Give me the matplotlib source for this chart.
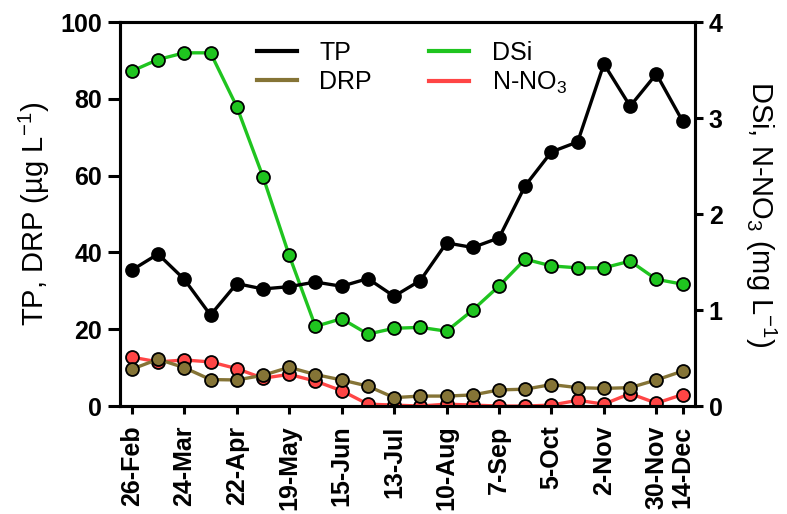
import numpy as np
import matplotlib
matplotlib.use("Agg")
import matplotlib.pyplot as plt

plt.rcParams['font.family'] = ['Liberation Sans', 'DejaVu Sans']
plt.rcParams['mathtext.fontset'] = 'custom'
plt.rcParams['mathtext.rm'] = 'Liberation Sans'
plt.rcParams['mathtext.it'] = 'Liberation Sans:italic'
plt.rcParams['mathtext.bf'] = 'Liberation Sans:bold'

# sampling dates (fortnightly), every second one labelled plus the last
dates = ['26-Feb', '10-Mar', '24-Mar', '7-Apr', '22-Apr', '5-May', '19-May',
         '1-Jun', '15-Jun', '29-Jun', '13-Jul', '27-Jul', '10-Aug', '24-Aug',
         '7-Sep', '21-Sep', '5-Oct', '19-Oct', '2-Nov', '16-Nov', '30-Nov',
         '14-Dec']
tick_idx = [0, 2, 4, 6, 8, 10, 12, 14, 16, 18, 20, 21]

# ug/L
tp = [35.4, 39.6, 33.0, 23.7, 31.9, 30.5, 31.1, 32.3, 31.2, 33.2, 28.6,
      32.7, 42.5, 41.3, 43.8, 57.4, 66.2, 68.8, 89.1, 78.1, 86.5, 74.2]
drp = [9.6, 12.2, 10.0, 6.9, 6.8, 8.0, 10.1, 8.2, 6.8, 5.2, 2.2,
       2.6, 2.6, 2.9, 4.2, 4.4, 5.6, 4.8, 4.6, 4.8, 6.8, 9.1]
# mg/L
dsi = [3.49, 3.61, 3.68, 3.68, 3.12, 2.39, 1.57, 0.83, 0.91, 0.75, 0.81,
       0.82, 0.78, 1.00, 1.25, 1.53, 1.46, 1.44, 1.44, 1.51, 1.32, 1.27]
no3 = [0.51, 0.46, 0.48, 0.46, 0.39, 0.29, 0.33, 0.26, 0.16, 0.02, 0.01,
       0.00, 0.02, 0.01, 0.00, 0.00, 0.01, 0.06, 0.02, 0.13, 0.03, 0.12]

c_tp = '#000000'
c_drp = '#857436'
c_dsi = '#1fc41f'
c_no3 = '#ff4545'

x = np.arange(len(dates))

fig = plt.figure(figsize=(7.87, 5.14), dpi=100)
ax1 = fig.add_axes([0.1525, 0.210, 0.7305, 0.747])
ax2 = ax1.twinx()
ax1.set_zorder(ax2.get_zorder() + 1)
ax1.patch.set_visible(False)

mk = dict(marker='o', markersize=9.3, markeredgecolor='black',
          markeredgewidth=1.3, linewidth=2.4)
l_dsi, = ax2.plot(x, dsi, color=c_dsi, markerfacecolor=c_dsi, label='DSi', **mk)
l_no3, = ax2.plot(x, no3, color=c_no3, markerfacecolor=c_no3,
                  label=r'N-NO$\mathregular{_3}$', **mk)
l_tp, = ax1.plot(x, tp, color=c_tp, markerfacecolor=c_tp, label='TP', **mk)
l_drp, = ax1.plot(x, drp, color=c_drp, markerfacecolor=c_drp, label='DRP', **mk)

ax1.set_xlim(-0.45, 21.47)
ax1.set_ylim(0, 100)
ax2.set_ylim(0, 4)
ax1.set_yticks([0, 20, 40, 60, 80, 100])
ax2.set_yticks([0, 1, 2, 3, 4])
ax1.set_xticks(tick_idx)
ax1.set_xticklabels([dates[i] for i in tick_idx], rotation=90)

for ax in (ax1, ax2):
    for sp in ax.spines.values():
        sp.set_linewidth(2.2)
    for lab in ax.get_xticklabels() + ax.get_yticklabels():
        lab.set_fontweight('bold')
        lab.set_fontsize(18)
ax1.tick_params(axis='y', length=9, width=2.2, pad=4)
ax1.tick_params(axis='x', length=6, width=2.2, pad=8)
ax2.tick_params(axis='y', length=6, width=2.2, pad=4)

ax1.set_ylabel(r'TP, DRP (µg $\mathregular{L^{-1}}$)', fontsize=21, labelpad=6)
ax2.set_ylabel(r'DSi, N-NO$\mathregular{_3}$ (mg $\mathregular{L^{-1}}$)',
               fontsize=21, rotation=270, labelpad=40)

ax1.legend(handles=[l_tp, l_drp, l_dsi, l_no3],
           labels=['TP', 'DRP', 'DSi', r'N-NO$\mathregular{_3}$'],
           ncol=2, frameon=False, fontsize=18, loc='upper left',
           bbox_to_anchor=(0.238, 0.952), borderaxespad=0, borderpad=0,
           handlelength=1.6, handletextpad=0.9, columnspacing=2.3,
           labelspacing=0.2)
for h in ax1.get_legend().legend_handles:
    h.set_marker('')
    h.set_linewidth(3)

fig.savefig('out.png', dpi=100)
